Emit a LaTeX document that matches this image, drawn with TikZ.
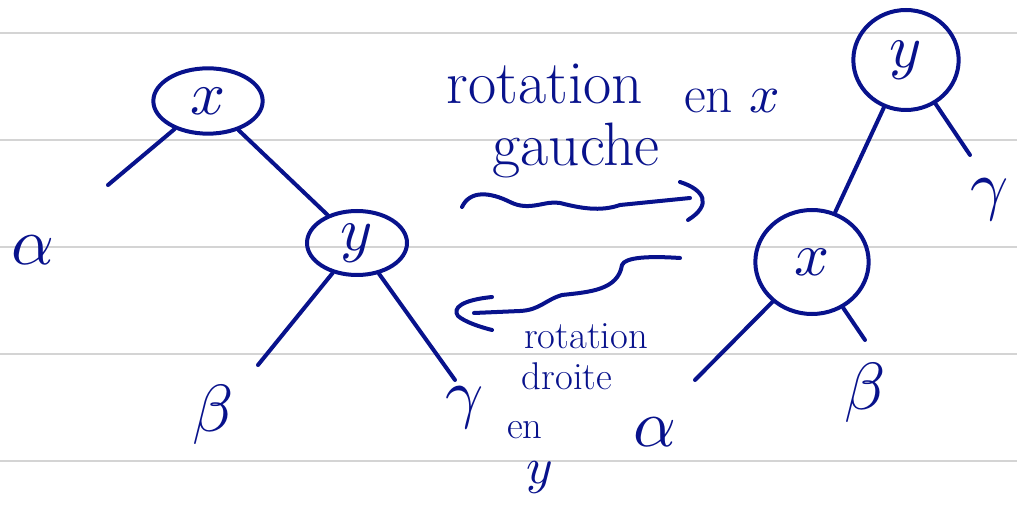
\documentclass[tikz,border=0pt]{standalone}
\usepackage{graphicx}
\usetikzlibrary{shapes.geometric}
\definecolor{ink}{RGB}{8,18,140}
\definecolor{rule}{RGB}{212,212,212}
\newcommand\mathbig[2]{\scalebox{#1}{\normalsize$#2$}}
\begin{document}
\begin{tikzpicture}[x=0.75pt,y=-0.75pt,
  ink/.style={draw=ink,line width=3pt,line cap=round,line join=round},
  tnode/.style={ellipse,draw=ink,line width=3pt,inner sep=0pt,text=ink},
  sub/.style={text=ink,inner sep=0pt},
  bigword/.style={text=ink,font=\fontsize{46}{48}\selectfont,inner sep=0pt},
  midword/.style={text=ink,font=\fontsize{40}{42}\selectfont,inner sep=0pt},
  smallword/.style={text=ink,font=\fontsize{29}{31}\selectfont,inner sep=0pt},
  ruleline/.style={draw=rule,line width=2.2pt}]
\fill[white] (0,0) rectangle (1017,516);
\useasboundingbox (0,0) rectangle (1017,516);
% ruled lines
\foreach \yy in {33,140,247,354,461} \draw[ruleline] (0,\yy) -- (1017,\yy);

% left tree
\node[tnode,minimum width=82pt,minimum height=49pt] (xl) at (208,101) {\mathbig{4.6}{x}};
\node[tnode,minimum width=75pt,minimum height=48pt] (yl) at (357,243) {\mathbig{4.6}{y}};
\coordinate (al) at (108,185);
\coordinate (bl) at (258,365);
\coordinate (gl) at (455,380);
\node[sub] (alphaL) at (33,250) {\mathbig{5}{\alpha}};
\node[sub] (betaL) at (213,415) {\mathbig{5}{\beta}};
\node[sub] (gammaL) at (465,408) {\mathbig{5}{\gamma}};
\draw[ink] (xl) -- (al);
\draw[ink] (xl) -- (yl);
\draw[ink] (yl) -- (bl);
\draw[ink] (yl) -- (gl);

% right tree
\node[tnode,minimum width=79pt,minimum height=75pt] (yr) at (906,60) {\mathbig{4.6}{y}};
\node[tnode,minimum width=85pt,minimum height=78pt] (xr) at (812,262) {\mathbig{4.6}{x}};
\coordinate (gr) at (970,155);
\coordinate (ar) at (695,380);
\coordinate (br) at (865,340);
\node[sub] (alphaR) at (655,432) {\mathbig{5}{\alpha}};
\node[sub] (betaR) at (865,393) {\mathbig{5}{\beta}};
\node[sub] (gammaR) at (990,200) {\mathbig{5}{\gamma}};
\draw[ink] (yr) -- (xr);
\draw[ink] (yr) -- (gr);
\draw[ink] (xr) -- (ar);
\draw[ink] (xr) -- (br);

% upper label and arrow
\node[bigword] (rot1) at (545,84) {rotation};
\node[bigword] (gau) at (576,150) {gauche};
\node[midword] (enx) at (732,101) {en \mathbig{4}{x}};
\draw[ink] (462,207) .. controls (470,190) and (490,192) .. (510,202)
  .. controls (530,212) and (545,200) .. (560,203)
  .. controls (580,208) and (600,212) .. (620,205) -- (690,198);
\draw[ink] (680,182) .. controls (705,190) and (712,205) .. (688,220);

% lower arrow and label
\draw[ink] (680,258) .. controls (650,256) and (625,257) .. (622,265)
  .. controls (618,290) and (590,292) .. (562,295)
  .. controls (545,300) and (540,310) .. (520,311) -- (474,313);
\draw[ink] (492,297) .. controls (462,300) and (452,308) .. (458,316)
  .. controls (465,322) and (480,327) .. (492,330);
\node[smallword] (rot2) at (586,336) {rotation};
\node[smallword] (dro) at (567,376) {droite};
\node[smallword] (en2) at (525,430) {en};
\node[sub] (y2) at (540,478) {\mathbig{3.8}{y}};
\end{tikzpicture}
\end{document}
